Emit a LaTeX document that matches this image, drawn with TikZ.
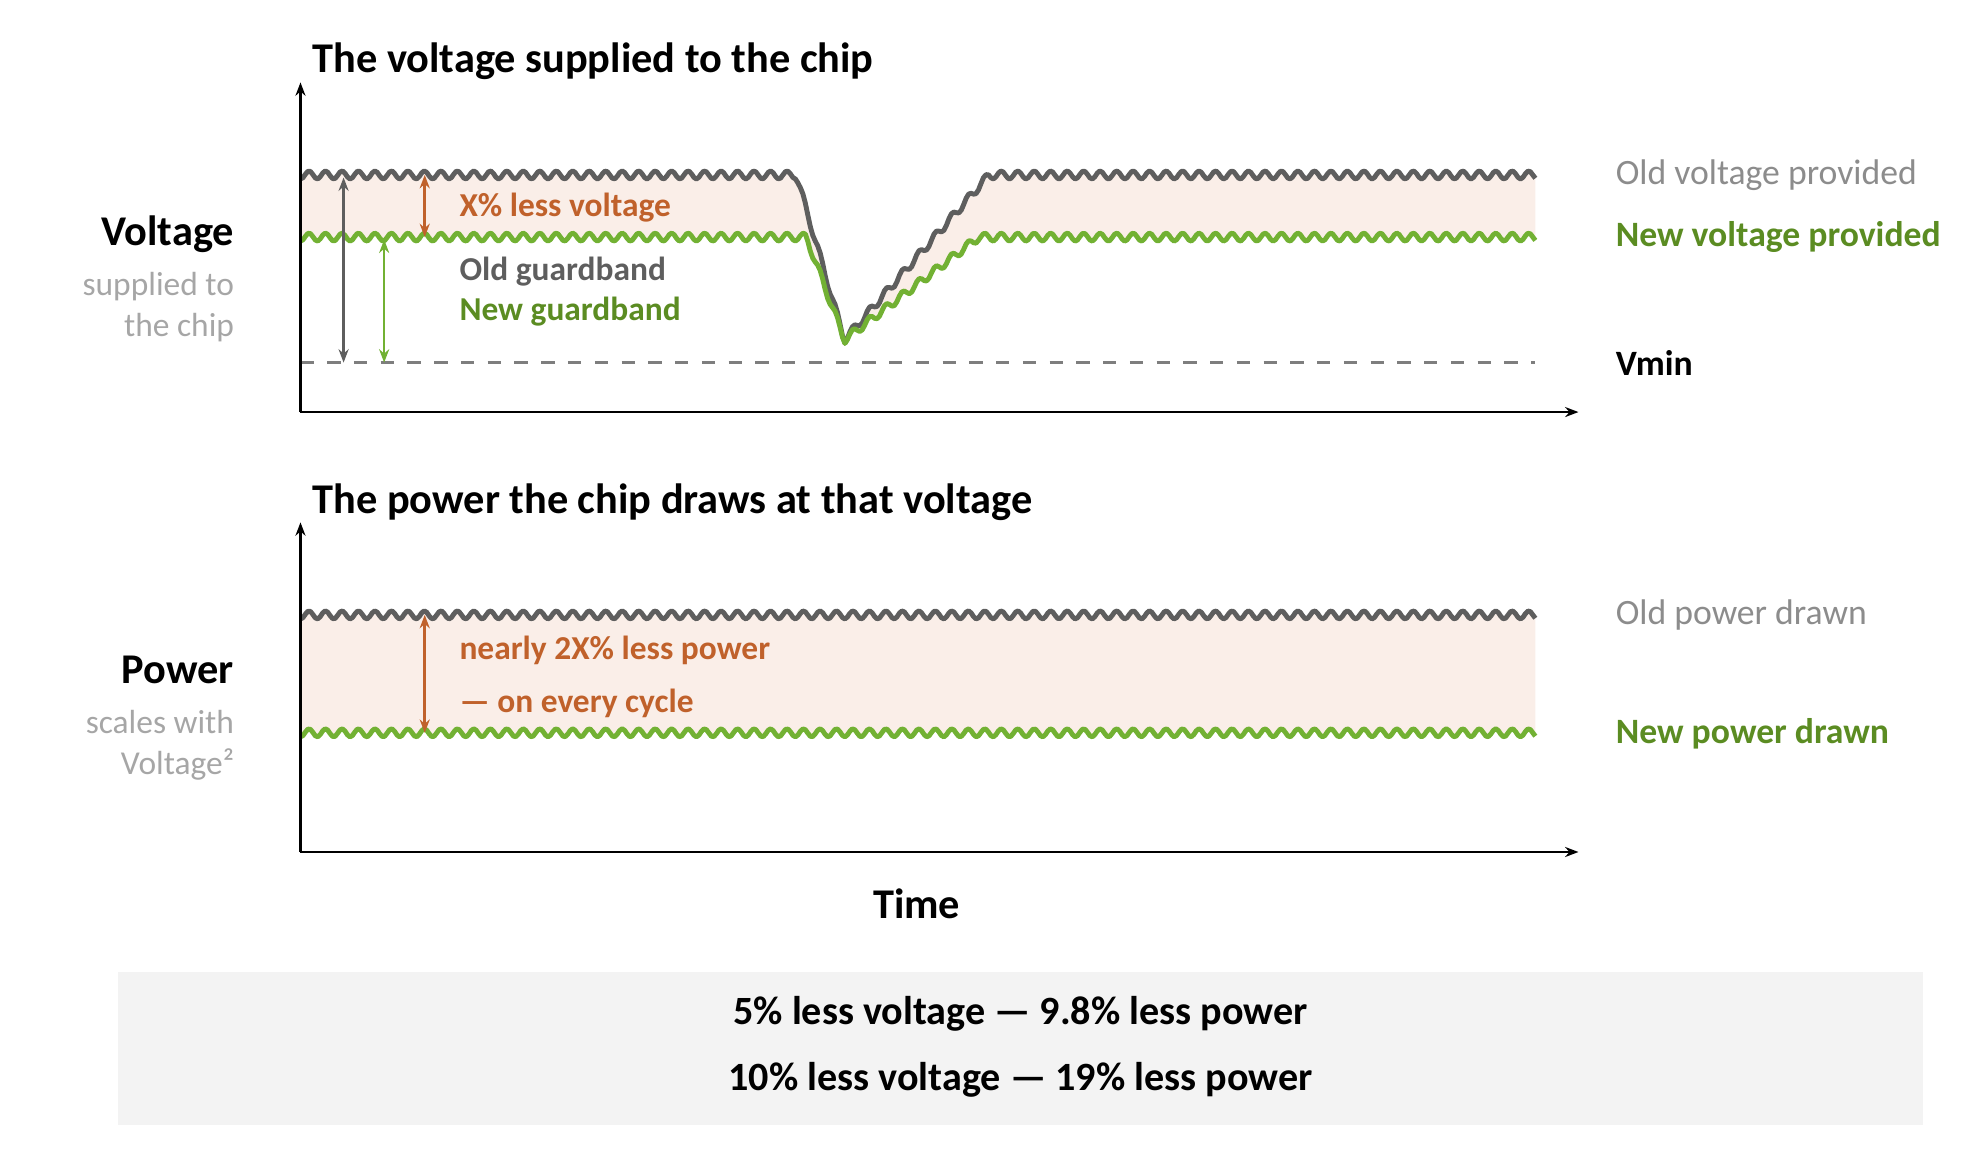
\documentclass[tikz,border=0pt]{standalone}
\usepackage{fontspec}
\setmainfont{Carlito}
\usetikzlibrary{arrows.meta}
\definecolor{oldline}{HTML}{5E5E5E}
\definecolor{newline}{HTML}{72B133}
\definecolor{newtext}{HTML}{5B8C22}
\definecolor{lessor}{HTML}{C0612B}
\definecolor{bandfill}{HTML}{FAEEE8}
\definecolor{softgray}{HTML}{A6A6A6}
\definecolor{labelgray}{HTML}{8C8C8C}
\definecolor{boxfill}{HTML}{F3F3F3}

\begin{document}
\begin{tikzpicture}[x=0.01cm, y=-0.01cm,
  declare function={
    vold(\x)=138+130*max(0,min(min((\x-628)/38,1),(780-\x)/114));
    vnew(\x)=187+81*max(0,min(min((\x-636)/30,1),(772-\x)/106));
    wig(\x)=3.2*sin(360*mod(\x,13)/13);
  },
  title/.style={anchor=west, font=\fontsize{9.5}{11}\selectfont\bfseries},
  side/.style={anchor=north east, align=right, font=\fontsize{7.5}{9.2}\selectfont, text=softgray},
  rlabel/.style={anchor=west, font=\fontsize{8}{10}\selectfont},
  note/.style={anchor=west, font=\fontsize{7.5}{9}\selectfont\bfseries},
  axis/.style={line width=0.5pt, -{Stealth[length=3pt]}},
  oldwave/.style={oldline, line width=1.1pt, line join=round},
  newwave/.style={newline, line width=1.1pt, line join=round},
  gap/.style={line width=0.6pt, {Stealth[length=3pt]}-{Stealth[length=3pt]}}
]
\useasboundingbox (0,0) rectangle (1568,912);

% Voltage panel
\fill[bandfill] plot[domain=237:1211, samples=500] (\x, {vold(\x)+wig(\x)})
  -- plot[domain=1211:237, samples=500] (\x, {vnew(\x)+wig(\x)}) -- cycle;
\draw[oldline!80, dashed, line width=0.5pt] (237,286) -- (1211,286);
\draw[oldwave] plot[domain=237:1211, samples=500] (\x, {vold(\x)+wig(\x)});
\draw[newwave] plot[domain=237:1211, samples=500] (\x, {vnew(\x)+wig(\x)});
\draw[axis] (237,325) -- (237,65);
\draw[axis] (237,325) -- (1245,325);

\coordinate (ogtop) at (271,140);
\coordinate (ogbot) at (271,286);
\coordinate (ngtop) at (303,189);
\coordinate (ngbot) at (303,286);
\coordinate (xvtop) at (335,138);
\coordinate (xvbot) at (335,187);
\draw[gap, oldline] (ogtop) -- (ogbot);
\draw[gap, newline] (ngtop) -- (ngbot);
\draw[gap, lessor] (xvtop) -- (xvbot);

\node[title] (vtitle) at (234,48) {The voltage supplied to the chip};
\node[side] (vside) at (197,158) {{\fontsize{9.5}{11}\selectfont\bfseries\color{black}Voltage}\\[2pt]supplied to\\the chip};
\node[note, text=lessor] (xless) at (350,164) {X\% less voltage};
\node[note, text=oldline] (oldgb) at (350,214) {Old guardband};
\node[note, text=newtext] (newgb) at (350,246) {New guardband};
\node[rlabel, text=labelgray] (oldv) at (1262,138) {Old voltage provided};
\node[rlabel, text=newtext, font=\fontsize{8}{10}\selectfont\bfseries] (newv) at (1262,187) {New voltage provided};
\node[rlabel, font=\fontsize{8}{10}\selectfont\bfseries] (vmin) at (1262,286) {Vmin};

% Power panel
\fill[bandfill] plot[domain=237:1211, samples=500] (\x, {485+wig(\x)})
  -- plot[domain=1211:237, samples=500] (\x, {578+wig(\x)}) -- cycle;
\draw[oldwave] plot[domain=237:1211, samples=500] (\x, {485+wig(\x)});
\draw[newwave] plot[domain=237:1211, samples=500] (\x, {578+wig(\x)});
\draw[axis] (237,672) -- (237,412);
\draw[axis] (237,672) -- (1245,672);

\coordinate (xptop) at (335,485);
\coordinate (xpbot) at (335,578);
\draw[gap, lessor] (xptop) -- (xpbot);

\node[title] (ptitle) at (234,396) {The power the chip draws at that voltage};
\node[side] (pside) at (197,505) {{\fontsize{9.5}{11}\selectfont\bfseries\color{black}Power}\\[2pt]scales with\\Voltage²};
\node[note, text=lessor, align=left] (xpless) at (350,534) {nearly 2X\% less power\\[3pt]— on every cycle};
\node[rlabel, text=labelgray] (oldp) at (1262,485) {Old power drawn};
\node[rlabel, text=newtext, font=\fontsize{8}{10}\selectfont\bfseries] (newp) at (1262,579) {New power drawn};
\node[font=\fontsize{9.5}{11}\selectfont\bfseries] (time) at (723,713) {Time};

% Summary box
\fill[boxfill] (93,767) rectangle (1517,887);
\node[font=\fontsize{9}{11}\selectfont\bfseries] (sum1) at (805,800) {5\% less voltage — 9.8\% less power};
\node[font=\fontsize{9}{11}\selectfont\bfseries] (sum2) at (805,852) {10\% less voltage — 19\% less power};
\end{tikzpicture}
\end{document}
